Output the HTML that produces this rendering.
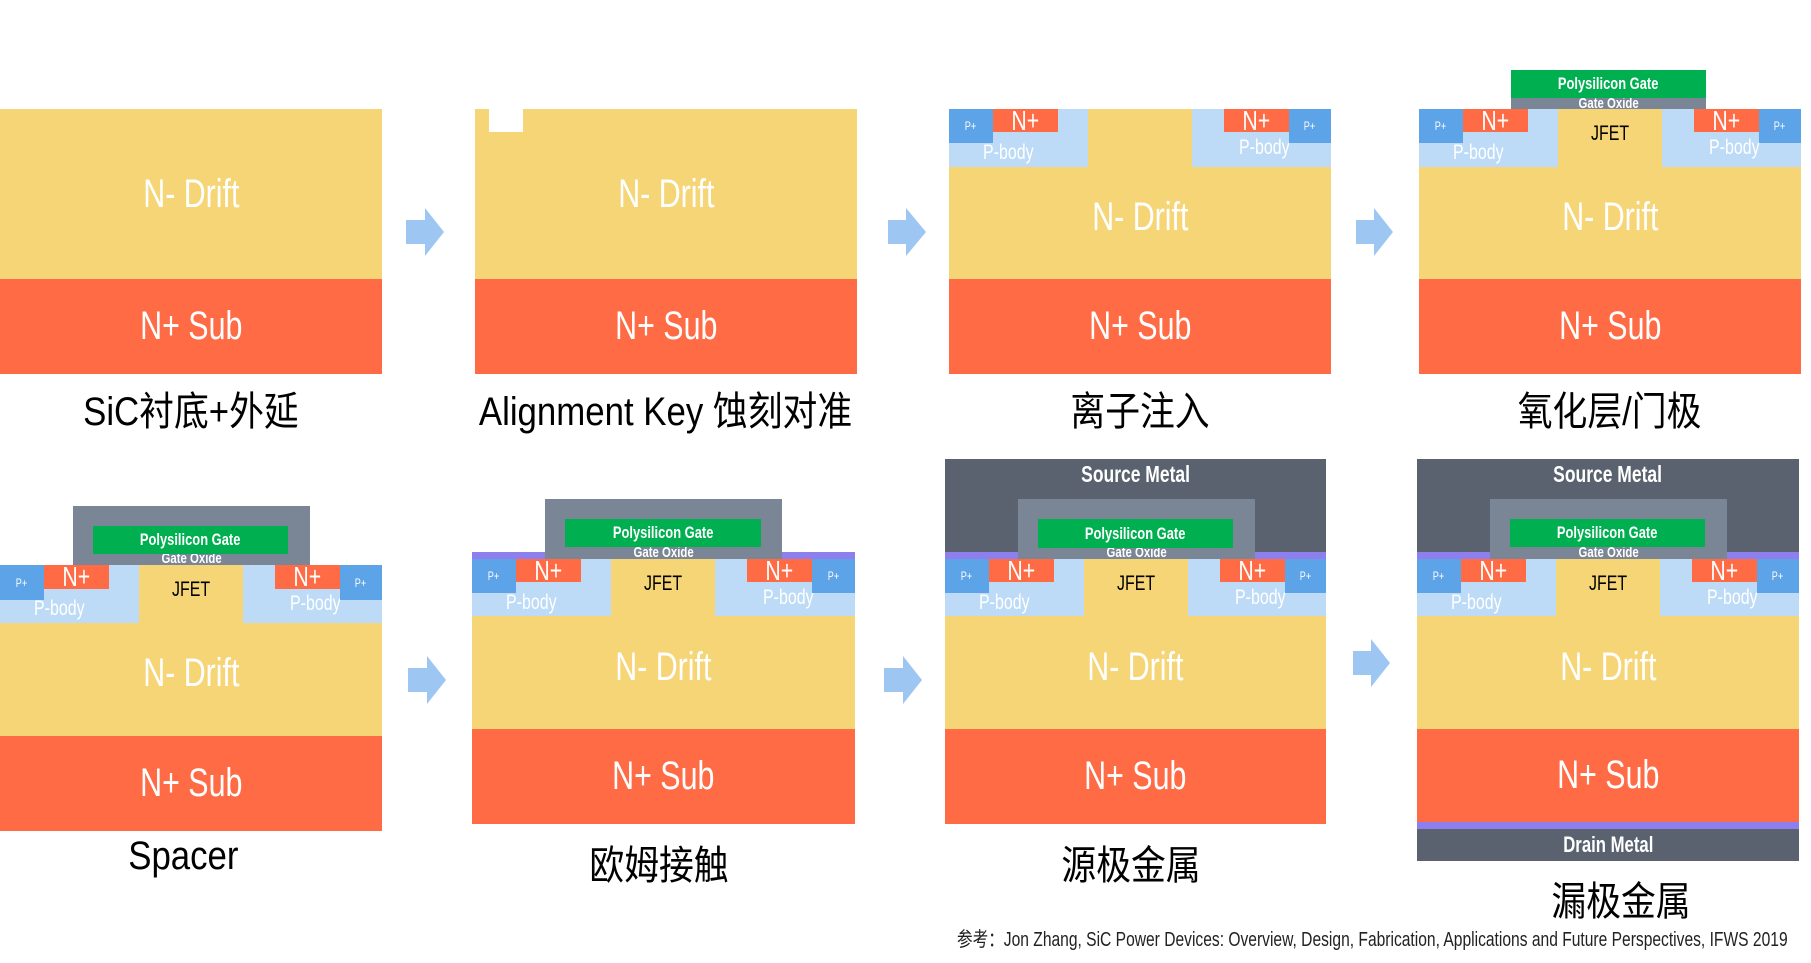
<!DOCTYPE html>
<html><head><meta charset="utf-8"><style>
*{margin:0;padding:0;box-sizing:border-box}
body{width:1811px;height:963px;background:#fff;position:relative;overflow:hidden;font-family:"Liberation Sans","Noto Sans CJK SC",sans-serif}
.a{position:absolute}
.p{position:absolute;width:382px;height:265px}
.r{position:absolute;display:flex;align-items:center;justify-content:center;white-space:nowrap}
.r span{display:inline-block;transform:scaleX(0.76)}
.dr{background:#F6D577}.sb{background:#FF6B45}.pb{background:#BDDBF6}.pp{background:#5DA3E8}.np{background:#FF6B45}
.w{color:#fff}
.big{font-size:40px}
.nplus{font-size:28px;color:#fff}
.ppt{font-size:12px;color:#fff}
.pbt{font-size:21px;color:#fff}
.jf{font-size:21px;color:#000}
.poly{background:#00AF50;color:#fff;font-size:17px;font-weight:bold}
.ox{background:#7A8596}
.oxt{font-size:15px;color:#fff;font-weight:bold}
.met{background:#5A6270;color:#fff;font-weight:bold;font-size:23px}
.pur{background:#8E7FEE}
.lab{position:absolute;font-size:40px;color:#000;display:flex;justify-content:center;white-space:nowrap}
.lab span{display:inline-block;transform:scaleX(0.87)}
.pl{padding-top:30px;padding-right:20px}
.pr{padding-top:20px;padding-left:6px}
</style></head><body>

<svg class="a" style="left:0;top:0" width="1811" height="963">
<g fill="#9DC6F2">
<polygon points="406,220 425,220 425,208 444,232 425,256 425,244 406,244"/>
<polygon points="888,220 906,220 906,208 926,232 906,256 906,244 888,244"/>
<polygon points="1356,220 1374,220 1374,208 1393,232 1374,256 1374,244 1356,244"/>
<polygon points="408,668 427,668 427,656 446,680 427,704 427,692 408,692"/>
<polygon points="884,668 903,668 903,656 922,680 903,704 903,692 884,692"/>
<polygon points="1353,651 1371,651 1371,639 1390,663 1371,687 1371,675 1353,675"/>
</g></svg>

<!-- P1 -->
<div class="p" style="left:0;top:109px">
<div class="r dr w big" style="left:0;top:0;width:382px;height:170px"><span>N- Drift</span></div>
<div class="r sb w big" style="left:0;top:170px;width:382px;height:95px"><span>N+ Sub</span></div>
</div>
<div class="lab" style="left:0;width:382px;top:379px"><span>SiC衬底+外延</span></div>

<!-- P2 -->
<div class="p" style="left:475px;top:109px">
<div class="r dr w big" style="left:0;top:0;width:382px;height:170px"><span>N- Drift</span></div>
<div class="a" style="left:14px;top:0;width:34px;height:23px;background:#fff"></div>
<div class="r sb w big" style="left:0;top:170px;width:382px;height:95px"><span>N+ Sub</span></div>
</div>
<div class="lab" style="left:445px;width:442px;top:379px"><span>Alignment Key 蚀刻对准</span></div>

<!-- P3 -->
<div class="p" style="left:949px;top:109px">
<div class="r dr w big" style="left:0;top:0;width:382px;height:170px;padding-top:46px"><span>N- Drift</span></div>
<div class="r pb pbt pl" style="left:0;top:0;width:139px;height:58px"><span>P-body</span></div>
<div class="r pb pbt pr" style="left:243px;top:0;width:139px;height:58px"><span>P-body</span></div>
<div class="r pp ppt" style="left:0;top:0;width:44px;height:34px"><span>P+</span></div>
<div class="r np nplus" style="left:44px;top:0;width:65px;height:23px"><span>N+</span></div>
<div class="r np nplus" style="left:275px;top:0;width:65px;height:23px"><span>N+</span></div>
<div class="r pp ppt" style="left:340px;top:0;width:42px;height:34px"><span>P+</span></div>
<div class="r sb w big" style="left:0;top:170px;width:382px;height:95px"><span>N+ Sub</span></div>
</div>
<div class="lab" style="left:949px;width:382px;top:379px"><span>离子注入</span></div>

<!-- P4 -->
<div class="p" style="left:1419px;top:109px">
<div class="r dr w big" style="left:0;top:0;width:382px;height:170px;padding-top:46px"><span>N- Drift</span></div>
<div class="r jf" style="left:139px;top:0;width:104px;height:50px"><span>JFET</span></div>
<div class="r pb pbt pl" style="left:0;top:0;width:139px;height:58px"><span>P-body</span></div>
<div class="r pb pbt pr" style="left:243px;top:0;width:139px;height:58px"><span>P-body</span></div>
<div class="r pp ppt" style="left:0;top:0;width:44px;height:34px"><span>P+</span></div>
<div class="r np nplus" style="left:44px;top:0;width:65px;height:23px"><span>N+</span></div>
<div class="r np nplus" style="left:275px;top:0;width:65px;height:23px"><span>N+</span></div>
<div class="r pp ppt" style="left:340px;top:0;width:42px;height:34px"><span>P+</span></div>
<div class="r sb w big" style="left:0;top:170px;width:382px;height:95px"><span>N+ Sub</span></div>
<div class="r ox oxt" style="left:92px;top:-11px;width:195px;height:11px"><span>Gate Oxide</span></div>
<div class="r poly" style="left:92px;top:-39px;width:195px;height:28px"><span>Polysilicon Gate</span></div>
</div>
<div class="lab" style="left:1419px;width:382px;top:379px"><span>氧化层/门极</span></div>

<!-- P5 -->
<div class="p" style="left:0;top:565px">
<div class="a ox" style="left:73px;top:-59px;width:237px;height:59px"></div>
<div class="r oxt" style="left:73px;top:-14px;width:237px;height:14px"><span>Gate Oxide</span></div>
<div class="r poly" style="left:93px;top:-39px;width:195px;height:28px"><span>Polysilicon Gate</span></div>
<div class="r dr w big" style="left:0;top:0;width:382px;height:171px;padding-top:46px"><span>N- Drift</span></div>
<div class="r jf" style="left:139px;top:0;width:104px;height:50px"><span>JFET</span></div>
<div class="r pb pbt pl" style="left:0;top:0;width:139px;height:58px"><span>P-body</span></div>
<div class="r pb pbt pr" style="left:243px;top:0;width:139px;height:58px"><span>P-body</span></div>
<div class="r pp ppt" style="left:0;top:0;width:44px;height:35px"><span>P+</span></div>
<div class="r np nplus" style="left:44px;top:0;width:65px;height:24px"><span>N+</span></div>
<div class="r np nplus" style="left:275px;top:0;width:65px;height:24px"><span>N+</span></div>
<div class="r pp ppt" style="left:340px;top:0;width:42px;height:35px"><span>P+</span></div>
<div class="r sb w big" style="left:0;top:171px;width:382px;height:95px"><span>N+ Sub</span></div>
</div>
<div class="lab" style="left:-8px;width:382px;top:834px"><span>Spacer</span></div>

<!-- P6 -->
<div class="p" style="left:472px;top:559px">
<div class="a pur" style="left:0;top:-7px;width:383px;height:7px"></div>
<div class="a ox" style="left:73px;top:-60px;width:237px;height:60px"></div>
<div class="r oxt" style="left:73px;top:-13px;width:237px;height:13px"><span>Gate Oxide</span></div>
<div class="r poly" style="left:93px;top:-40px;width:196px;height:28px"><span>Polysilicon Gate</span></div>
<div class="r dr w big" style="left:0;top:0;width:383px;height:170px;padding-top:46px"><span>N- Drift</span></div>
<div class="r jf" style="left:139px;top:0;width:104px;height:50px"><span>JFET</span></div>
<div class="r pb pbt pl" style="left:0;top:0;width:139px;height:57px"><span>P-body</span></div>
<div class="r pb pbt pr" style="left:243px;top:0;width:140px;height:57px"><span>P-body</span></div>
<div class="r pp ppt" style="left:0;top:0;width:44px;height:34px"><span>P+</span></div>
<div class="r np nplus" style="left:44px;top:0;width:65px;height:23px"><span>N+</span></div>
<div class="r np nplus" style="left:275px;top:0;width:65px;height:23px"><span>N+</span></div>
<div class="r pp ppt" style="left:340px;top:0;width:43px;height:34px"><span>P+</span></div>
<div class="r sb w big" style="left:0;top:170px;width:383px;height:95px"><span>N+ Sub</span></div>
</div>
<div class="lab" style="left:467px;width:383px;top:833px"><span>欧姆接触</span></div>

<!-- P7 -->
<div class="p" style="left:945px;top:559px">
<div class="r met" style="left:0;top:-100px;width:381px;height:93px;align-items:flex-start;padding-top:2px"><span>Source Metal</span></div>
<div class="a pur" style="left:0;top:-7px;width:381px;height:7px"></div>
<div class="a ox" style="left:73px;top:-60px;width:237px;height:60px"></div>
<div class="r oxt" style="left:73px;top:-13px;width:237px;height:13px"><span>Gate Oxide</span></div>
<div class="r poly" style="left:93px;top:-40px;width:195px;height:29px"><span>Polysilicon Gate</span></div>
<div class="r dr w big" style="left:0;top:0;width:381px;height:170px;padding-top:46px"><span>N- Drift</span></div>
<div class="r jf" style="left:139px;top:0;width:104px;height:50px"><span>JFET</span></div>
<div class="r pb pbt pl" style="left:0;top:0;width:139px;height:57px"><span>P-body</span></div>
<div class="r pb pbt pr" style="left:243px;top:0;width:138px;height:57px"><span>P-body</span></div>
<div class="r pp ppt" style="left:0;top:0;width:44px;height:34px"><span>P+</span></div>
<div class="r np nplus" style="left:44px;top:0;width:65px;height:23px"><span>N+</span></div>
<div class="r np nplus" style="left:275px;top:0;width:65px;height:23px"><span>N+</span></div>
<div class="r pp ppt" style="left:340px;top:0;width:41px;height:34px"><span>P+</span></div>
<div class="r sb w big" style="left:0;top:170px;width:381px;height:95px"><span>N+ Sub</span></div>
</div>
<div class="lab" style="left:940px;width:381px;top:833px"><span>源极金属</span></div>

<!-- P8 -->
<div class="p" style="left:1417px;top:559px">
<div class="r met" style="left:0;top:-100px;width:382px;height:93px;align-items:flex-start;padding-top:2px"><span>Source Metal</span></div>
<div class="a pur" style="left:0;top:-7px;width:382px;height:7px"></div>
<div class="a ox" style="left:73px;top:-60px;width:237px;height:60px"></div>
<div class="r oxt" style="left:73px;top:-13px;width:237px;height:13px"><span>Gate Oxide</span></div>
<div class="r poly" style="left:93px;top:-40px;width:195px;height:28px"><span>Polysilicon Gate</span></div>
<div class="r dr w big" style="left:0;top:0;width:382px;height:170px;padding-top:46px"><span>N- Drift</span></div>
<div class="r jf" style="left:139px;top:0;width:104px;height:50px"><span>JFET</span></div>
<div class="r pb pbt pl" style="left:0;top:0;width:139px;height:57px"><span>P-body</span></div>
<div class="r pb pbt pr" style="left:243px;top:0;width:139px;height:57px"><span>P-body</span></div>
<div class="r pp ppt" style="left:0;top:0;width:44px;height:34px"><span>P+</span></div>
<div class="r np nplus" style="left:44px;top:0;width:65px;height:23px"><span>N+</span></div>
<div class="r np nplus" style="left:275px;top:0;width:65px;height:23px"><span>N+</span></div>
<div class="r pp ppt" style="left:340px;top:0;width:42px;height:34px"><span>P+</span></div>
<div class="r sb w big" style="left:0;top:170px;width:382px;height:93px"><span>N+ Sub</span></div>
<div class="a pur" style="left:0;top:263px;width:382px;height:7px"></div>
<div class="r met" style="left:0;top:270px;width:382px;height:32px;font-size:22px"><span>Drain Metal</span></div>
</div>
<div class="lab" style="left:1430px;width:382px;top:869px"><span>漏极金属</span></div>

<div class="a" style="left:957px;top:923px;width:840px;font-size:20px;color:#222;white-space:nowrap;transform:scaleX(0.78);transform-origin:left center">参考：Jon Zhang, SiC Power Devices: Overview, Design, Fabrication, Applications and Future Perspectives, IFWS 2019</div>

</body></html>
